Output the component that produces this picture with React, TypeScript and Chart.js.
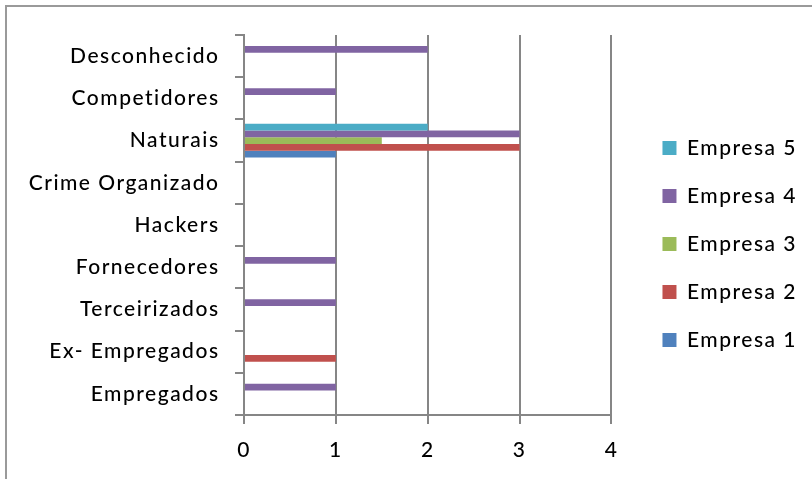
import { useEffect, useRef } from "react";
import { Chart, registerables } from "chart.js";

Chart.register(...registerables);

// Categories listed top to bottom
const categories = [
  "Desconhecido",
  "Competidores",
  "Naturais",
  "Crime Organizado",
  "Hackers",
  "Fornecedores",
  "Terceirizados",
  "Ex- Empregados",
  "Empregados",
];

// Series in legend order (Empresa 5 first)
const seriesNames = ["Empresa 5", "Empresa 4", "Empresa 3", "Empresa 2", "Empresa 1"];
const seriesColors = ["#4BACC6", "#8064A2", "#9BBB59", "#C0504D", "#4F81BD"];

const empresa5 = [null, null, 2, null, null, null, null, null, null];
const empresa4 = [2, 1, 3, null, null, 1, 1, null, 1];
const empresa3 = [null, null, 1.5, null, null, null, null, null, null];
const empresa2 = [null, null, 3, null, null, null, null, 1, null];
const empresa1 = [null, null, 1, null, null, null, null, null, null];

const seriesValues = [empresa5, empresa4, empresa3, empresa2, empresa1];

const xTicks = [0, 1, 2, 3, 4];

const FONT_FAMILY = "Lato, 'Noto Sans', sans-serif";
const FONT_SIZE = 21;
const LETTER_SPACING = "1.5px";
const LINE_COLOR = "#868686";

// Widen glyph spacing on the canvas context before measuring and drawing
const letterSpacingPlugin = {
  id: "letterSpacing",
  beforeUpdate(chart: any) {
    chart.ctx.letterSpacing = LETTER_SPACING;
  },
  beforeDraw(chart: any) {
    chart.ctx.letterSpacing = LETTER_SPACING;
  },
};

// Move the legend block a bit right and up from its default slot
const LEGEND_DX = 24;
const LEGEND_DY = -13;
const legendOffsetPlugin = {
  id: "legendOffset",
  afterLayout(chart: any) {
    const l = chart.legend;
    if (!l) return;
    l.left += LEGEND_DX;
    l.top += LEGEND_DY;
    l.bottom += LEGEND_DY;
    l.right = chart.width;
  },
};

export default function App() {
  const canvasRef = useRef<HTMLCanvasElement | null>(null);

  useEffect(() => {
    const canvas = canvasRef.current;
    if (!canvas) return;

    const font = { family: FONT_FAMILY, size: FONT_SIZE, weight: "500" };

    const chart = new Chart(canvas, {
      type: "bar",
      data: {
        labels: categories,
        datasets: seriesNames.map((name, i) => ({
          label: name,
          data: seriesValues[i],
          backgroundColor: seriesColors[i],
          borderWidth: 0,
          categoryPercentage: 0.8,
          barPercentage: 1.0,
        })),
      },
      options: {
        indexAxis: "y",
        responsive: false,
        animation: false,
        layout: { padding: { left: 0, top: 35, right: 29, bottom: 0 } },
        plugins: {
          tooltip: { enabled: false },
          legend: {
            position: "right",
            labels: {
              boxWidth: 14,
              boxHeight: 14,
              padding: 27,
              color: "#000",
              font,
            },
          },
        },
        scales: {
          x: {
            min: 0,
            max: 4,
            afterBuildTicks: (axis: any) => {
              axis.ticks = xTicks.map((v) => ({ value: v }));
            },
            afterFit: (axis: any) => {
              axis.height = 64;
            },
            ticks: { color: "#000", font, padding: 14 },
            grid: {
              color: LINE_COLOR,
              lineWidth: 2,
              tickLength: 9,
            },
            border: { color: LINE_COLOR, width: 2 },
          },
          y: {
            afterFit: (axis: any) => {
              axis.width = 244;
            },
            ticks: { color: "#000", font, padding: 15.5 },
            grid: {
              offset: true,
              drawOnChartArea: false,
              color: LINE_COLOR,
              lineWidth: 2,
              tickLength: 9,
            },
            border: { color: LINE_COLOR, width: 2 },
          },
        },
      },
      plugins: [letterSpacingPlugin, legendOffsetPlugin],
    } as any);

    return () => chart.destroy();
  }, []);

  return (
    <div
      style={{
        position: "absolute",
        left: 0,
        top: 0,
        width: 812,
        height: 479,
        overflow: "hidden",
        background: "#fff",
      }}
    >
      <div
        style={{
          position: "absolute",
          left: 5,
          top: 5,
          width: 900,
          height: 600,
          borderLeft: "2px solid #9a9a9a",
          borderTop: "2px solid #9a9a9a",
        }}
      />
      <canvas
        ref={canvasRef}
        width={812}
        height={479}
        style={{ position: "absolute", left: 0, top: 0, width: 812, height: 479 }}
      />
    </div>
  );
}
